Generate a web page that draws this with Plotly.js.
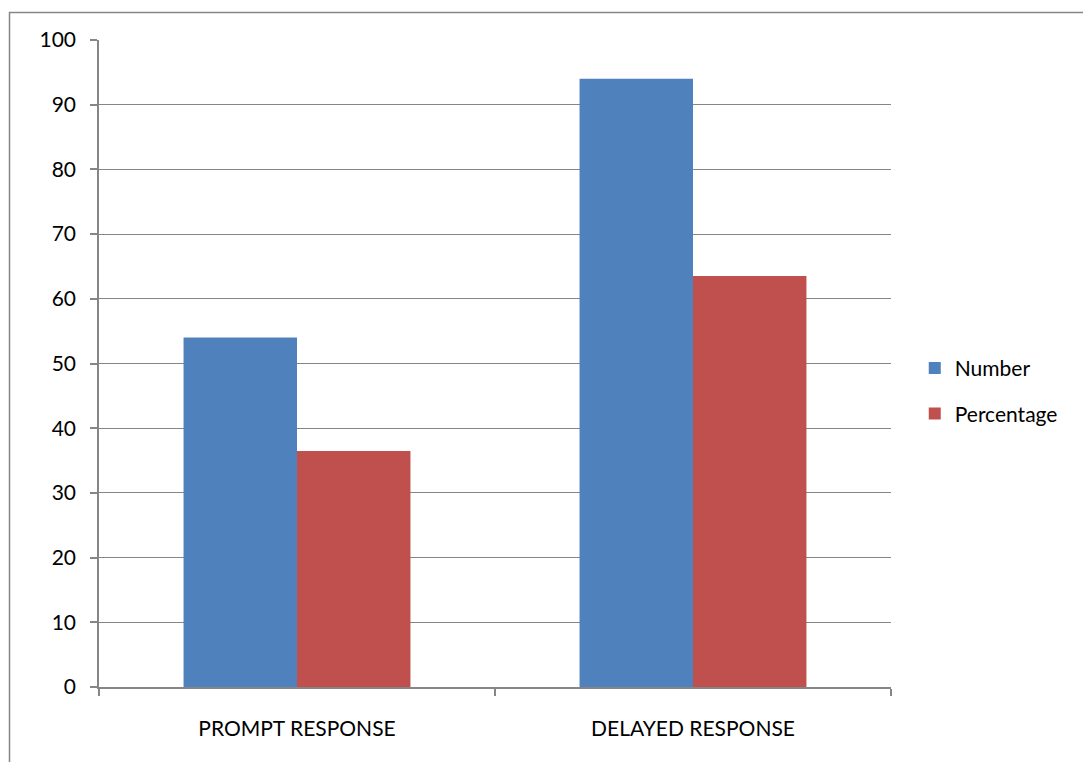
<!DOCTYPE html>
<html>
<head>
<meta charset="utf-8">
<script src="https://cdn.plot.ly/plotly-3.0.1.min.js"></script>
<style>
  html, body { margin: 0; padding: 0; background: #ffffff; }
  #chart { width: 1083px; height: 762px; }
</style>
</head>
<body>
<div id="chart"></div>
<script>
// Response categories and the two measured series
const categories = ['PROMPT RESPONSE', 'DELAYED RESPONSE'];
const numberValues = [54, 94];
const percentageValues = [36.49, 63.51];
const yTicks = [0, 10, 20, 30, 40, 50, 60, 70, 80, 90, 100];

const gray = '#868686';
const fontFamily = 'Lato, "Liberation Sans", sans-serif';

const traces = [
  {
    type: 'bar',
    name: 'Number',
    x: categories,
    y: numberValues,
    legendgroup: 'a',
    marker: { color: '#4F81BD', line: { width: 0 } },
    hoverinfo: 'x+y+name'
  },
  {
    type: 'bar',
    name: 'Percentage',
    x: categories,
    y: percentageValues,
    legendgroup: 'b',
    marker: { color: '#C0504D', line: { width: 0 } },
    hoverinfo: 'x+y+name'
  }
];

const layout = {
  width: 1083,
  height: 762,
  margin: { l: 99, r: 192, t: 39.5, b: 74.5, pad: 0 },
  paper_bgcolor: '#ffffff',
  plot_bgcolor: '#ffffff',
  font: { family: fontFamily, size: 21, color: '#000000' },
  barmode: 'group',
  bargap: 0.427,
  bargroupgap: 0,
  showlegend: true,
  legend: {
    x: 1.03,
    y: 0.4576,
    xanchor: 'left',
    yanchor: 'middle',
    traceorder: 'grouped',
    tracegroupgap: 15,
    font: { family: fontFamily, size: 21, color: '#000000' },
    bgcolor: 'rgba(0,0,0,0)'
  },
  xaxis: {
    type: 'category',
    showline: true,
    linecolor: gray,
    linewidth: 1.5,
    ticks: 'outside',
    tickson: 'boundaries',
    ticklen: 7,
    tickcolor: gray,
    tickwidth: 1.5,
    showgrid: false,
    zeroline: false,
    ticklabelstandoff: 22,
    tickfont: { family: fontFamily, size: 21, color: '#000000' }
  },
  yaxis: {
    range: [0, 100],
    tickmode: 'array',
    tickvals: yTicks,
    ticktext: yTicks.map(String),
    showline: true,
    linecolor: gray,
    linewidth: 1.5,
    ticks: 'outside',
    ticklen: 7,
    tickcolor: gray,
    tickwidth: 1.5,
    showgrid: true,
    gridcolor: gray,
    gridwidth: 1.3,
    zeroline: false,
    ticklabelstandoff: 10,
    tickfont: { family: fontFamily, size: 21, color: '#000000' }
  },
  shapes: [
    {
      // chart-area frame, open past the right and bottom edges of the page
      type: 'rect',
      xref: 'paper', yref: 'paper',
      x0: -0.113, x1: 1.26,
      y0: -0.14, y1: 1.0424,
      line: { color: gray, width: 1.5 },
      fillcolor: 'rgba(0,0,0,0)',
      layer: 'below'
    }
  ]
};

Plotly.newPlot('chart', traces, layout, { displayModeBar: false, responsive: false });
</script>
</body>
</html>
